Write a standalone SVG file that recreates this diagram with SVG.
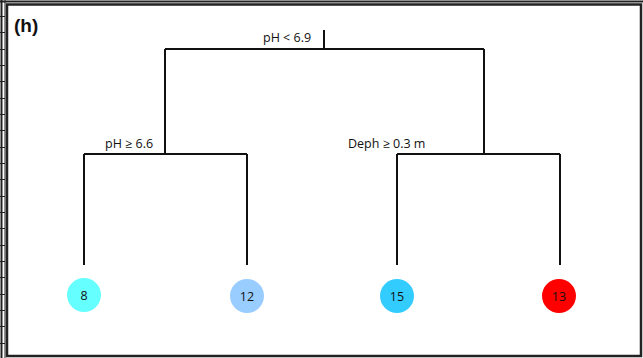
<svg xmlns="http://www.w3.org/2000/svg" width="643" height="358" viewBox="0 0 643 358">
  <style>
    .edge { stroke: #111; stroke-width: 2; fill: none; }
    .lbl { font-family: "Open Sans", "Liberation Sans", sans-serif; font-size: 12.5px; fill: #111; }
    .num { font-family: "Open Sans", "Liberation Sans", sans-serif; font-size: 12.5px; fill: #111; text-anchor: middle; }
    .frame { stroke: #222; fill: none; }
  </style>
  <rect x="0" y="0" width="643" height="358" fill="#fff"/>
  <g id="frame">
    <line class="frame" x1="0" y1="1.5" x2="643" y2="1.5" stroke-width="2"/>
    <line class="frame" x1="1.5" y1="0" x2="1.5" y2="358" stroke-width="2"/>
    <rect class="frame" x="7" y="4.5" width="634" height="351.5" stroke-width="2.5"/>
    <line class="frame" x1="5" y1="0" x2="5" y2="358" stroke-width="1"/>
    <g stroke="#222" stroke-width="1">
      <line x1="0" y1="16.5" x2="5" y2="16.5"/>
      <line x1="0" y1="32.5" x2="5" y2="32.5"/>
      <line x1="0" y1="49.5" x2="5" y2="49.5"/>
      <line x1="0" y1="65.5" x2="5" y2="65.5"/>
      <line x1="0" y1="81.5" x2="5" y2="81.5"/>
      <line x1="0" y1="98.5" x2="5" y2="98.5"/>
      <line x1="0" y1="114.5" x2="5" y2="114.5"/>
      <line x1="0" y1="130.5" x2="5" y2="130.5"/>
      <line x1="0" y1="147.5" x2="5" y2="147.5"/>
      <line x1="0" y1="163.5" x2="5" y2="163.5"/>
      <line x1="0" y1="179.5" x2="5" y2="179.5"/>
      <line x1="0" y1="196.5" x2="5" y2="196.5"/>
      <line x1="0" y1="212.5" x2="5" y2="212.5"/>
      <line x1="0" y1="228.5" x2="5" y2="228.5"/>
      <line x1="0" y1="245.5" x2="5" y2="245.5"/>
      <line x1="0" y1="261.5" x2="5" y2="261.5"/>
      <line x1="0" y1="277.5" x2="5" y2="277.5"/>
      <line x1="0" y1="294.5" x2="5" y2="294.5"/>
      <line x1="0" y1="310.5" x2="5" y2="310.5"/>
      <line x1="0" y1="326.5" x2="5" y2="326.5"/>
      <line x1="0" y1="343.5" x2="5" y2="343.5"/>
    </g>
  </g>
  <text x="14" y="32" font-family="Liberation Sans, Arial, sans-serif" font-size="19" font-weight="bold" fill="#111">(h)</text>
  <g id="connectors">
    <path class="edge" d="M324 30 V49 M165 49 H484 M165 49 V154 M484 49 V154 M84 154 H247 M84 154 V265 M247 154 V265 M397 154 H560 M397 154 V265 M560 154 V265"/>
  </g>
  <g id="split-root"><text class="lbl" x="263" y="42">pH &lt; 6.9</text></g>
  <g id="split-left"><text class="lbl" x="105" y="148">pH ≥ 6.6</text></g>
  <g id="split-right"><text class="lbl" x="348" y="148">Deph ≥ 0.3 m</text></g>
  <g id="leaf-8"><circle cx="84" cy="295" r="17" fill="#66FFFF"/><text class="num" x="84" y="299.5">8</text></g>
  <g id="leaf-12"><circle cx="247" cy="296" r="17" fill="#99CCFF"/><text class="num" x="247" y="300.5">12</text></g>
  <g id="leaf-15"><circle cx="397" cy="296" r="17" fill="#33CCFF"/><text class="num" x="397" y="300.5">15</text></g>
  <g id="leaf-13"><circle cx="559" cy="296" r="17" fill="#FF0000"/><text class="num" x="559" y="300.5">13</text></g>
</svg>
